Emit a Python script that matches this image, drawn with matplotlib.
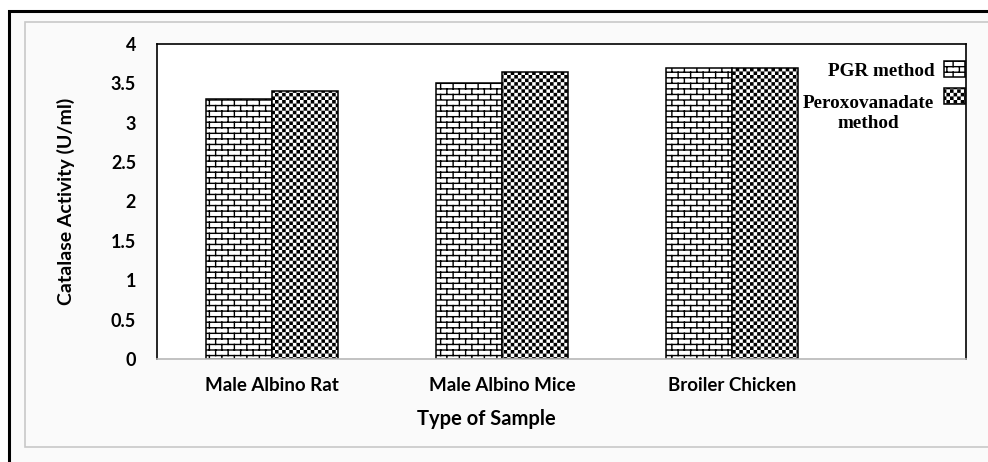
import warnings
import numpy as np
import matplotlib
matplotlib.use("Agg")
import matplotlib.pyplot as plt
import matplotlib.hatch as mhatch
from matplotlib.path import Path
from matplotlib.patches import Rectangle
from matplotlib.legend_handler import HandlerPatch

warnings.filterwarnings("ignore")

# ---- data ----
categories = ["Male Albino Rat", "Male Albino Mice", "Broiler Chicken"]
pgr_values = [3.3, 3.5, 3.7]
perox_values = [3.4, 3.65, 3.7]
series_labels = ["PGR method", "Peroxovanadate\nmethod"]
y_ticks = [0, 0.5, 1, 1.5, 2, 2.5, 3, 3.5, 4]
y_tick_labels = ["0", "0.5", "1", "1.5", "2", "2.5", "3", "3.5", "4"]


# ---- custom hatch patterns: brick wall ('b') and checkerboard ('k') ----
class BrickHatch(mhatch.HatchPatternBase):
    rows = 18
    cols = 8

    def __init__(self, hatch, density):
        on = 'b' in hatch
        self.num_vertices = ((self.rows + 1) * 2 + self.rows * self.cols * 2) if on else 0

    def set_vertices_and_codes(self, vertices, codes):
        r, c = self.rows, self.cols
        idx = 0
        for i in range(r + 1):
            y = i / r
            vertices[idx] = (0.0, y); codes[idx] = Path.MOVETO
            vertices[idx + 1] = (1.0, y); codes[idx + 1] = Path.LINETO
            idx += 2
        for i in range(r):
            off = 0.25 if i % 2 == 0 else 0.75
            for k in range(c):
                x = (k + off) / c
                vertices[idx] = (x, i / r); codes[idx] = Path.MOVETO
                vertices[idx + 1] = (x, (i + 1) / r); codes[idx + 1] = Path.LINETO
                idx += 2


class CheckerHatch(mhatch.HatchPatternBase):
    cells = 28

    def __init__(self, hatch, density):
        on = 'k' in hatch
        self.num_vertices = (self.cells * self.cells // 2) * 5 if on else 0

    def set_vertices_and_codes(self, vertices, codes):
        n = self.cells
        c = 1.0 / n
        h = 0.5 * matplotlib.rcParams['hatch.linewidth'] / 72.0
        idx = 0
        for i in range(n):
            for j in range(n):
                if (i + j) % 2:
                    continue
                x0, y0 = i * c + h, j * c + h
                x1, y1 = (i + 1) * c - h, (j + 1) * c - h
                vertices[idx:idx + 5] = [(x0, y0), (x1, y0), (x1, y1), (x0, y1), (x0, y0)]
                codes[idx:idx + 5] = [Path.MOVETO, Path.LINETO, Path.LINETO,
                                      Path.LINETO, Path.CLOSEPOLY]
                idx += 5


mhatch._hatch_types.extend([BrickHatch, CheckerHatch])

plt.rcParams['hatch.linewidth'] = 1.0
plt.rcParams['hatch.color'] = 'black'

W, H = 988, 462
fig = plt.figure(figsize=(W / 100, H / 100), dpi=100, facecolor='white')


def fx(px):
    return px / W


def fy(py):
    return 1 - py / H


# outer border and inner chart-area frame
fig.patches.append(Rectangle((fx(9), fy(470)), fx(1000) - fx(9), fy(10.5) - fy(470),
                             transform=fig.transFigure, facecolor='#fafafa',
                             edgecolor='black', linewidth=2.2, zorder=-2))
fig.patches.append(Rectangle((fx(25), fy(447)), fx(1000) - fx(25), fy(22) - fy(447),
                             transform=fig.transFigure, facecolor='#fafafa',
                             edgecolor='#c8c8c8', linewidth=1.2, zorder=-1))

ax = fig.add_axes([fx(157), fy(359), fx(966) - fx(157), fy(44) - fy(359)])
ax.set_facecolor('white')

x = np.arange(len(categories))
bw = 0.287
bars_pgr = ax.bar(x - bw / 2, pgr_values, bw, facecolor='white', edgecolor='black',
                  linewidth=1.1, hatch='b', label=series_labels[0], zorder=2)
bars_perox = ax.bar(x + bw / 2, perox_values, bw, facecolor='white', edgecolor='black',
                    linewidth=1.1, hatch='k', label=series_labels[1], zorder=2)

ax.set_xlim(-0.5, 3.017)
ax.set_ylim(0, 4)
ax.set_yticks(y_ticks)
ax.set_yticklabels(y_tick_labels)
ax.set_xticks(x)
ax.set_xticklabels(categories)
ax.tick_params(axis='both', length=0)
ax.tick_params(axis='y', pad=15)
ax.tick_params(axis='x', pad=13)

tick_font = dict(family='Lato', weight='bold')
for t in ax.get_yticklabels():
    t.set_fontproperties(dict(tick_font, size=13))
for t in ax.get_xticklabels():
    t.set_fontproperties(dict(tick_font, size=13.5))

for side in ('left', 'top', 'right'):
    ax.spines[side].set_color('black')
    ax.spines[side].set_linewidth(1.2)
ax.spines['bottom'].set_color('#b8b8b8')
ax.spines['bottom'].set_linewidth(1.2)

ax.set_ylabel("Catalase Activity (U/ml)", family='Lato', weight='bold', size=14,
              labelpad=26)
ax.set_xlabel("Type of Sample", family='Lato', weight='bold', size=14.5,
              labelpad=11, x=(486 - 157) / (966 - 157))


class RaisedPatchHandler(HandlerPatch):
    def __init__(self, shift=0.0, **kw):
        super().__init__(**kw)
        self.shift = shift

    def create_artists(self, legend, orig_handle, xdescent, ydescent, width,
                       height, fontsize, trans):
        p = Rectangle((-xdescent, -ydescent + self.shift), width, height)
        self.update_prop(p, orig_handle, legend)
        p.set_transform(trans)
        return [p]


h_pgr, h_perox = bars_pgr.patches[0], bars_perox.patches[0]
leg = ax.legend(handles=[h_pgr, h_perox], labels=series_labels,
                loc='upper right', bbox_to_anchor=(fx(965), fy(61)),
                bbox_transform=fig.transFigure, frameon=False, markerfirst=False,
                borderpad=0, borderaxespad=0, handlelength=1.1, handleheight=0.9,
                handletextpad=0.5, labelspacing=0.78,
                prop=dict(family='Liberation Serif', weight='bold', size=13.8),
                handler_map={h_pgr: RaisedPatchHandler(0.0),
                             h_perox: RaisedPatchHandler(12.5)})
for t in leg.get_texts():
    t.set_multialignment('center')
    t.set_linespacing(1.25)

fig.savefig('out.png', dpi=100, facecolor=fig.get_facecolor())
